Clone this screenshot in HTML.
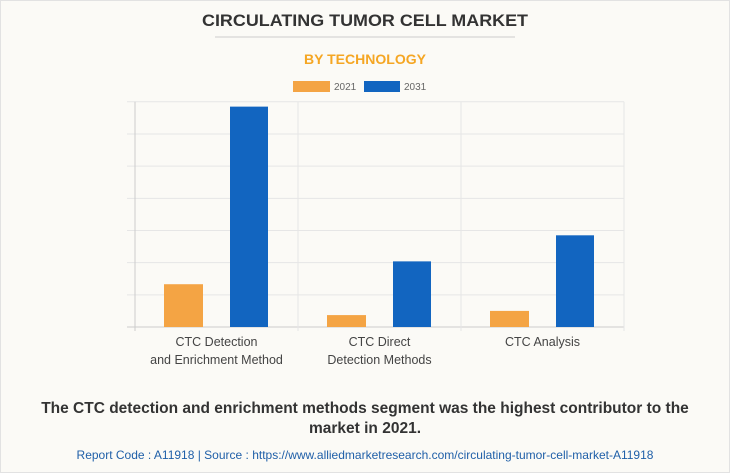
<!DOCTYPE html>
<html><head><meta charset="utf-8"><style>
body{margin:0;background:#fff}
svg{display:block;font-family:"Liberation Sans",sans-serif}
</style></head><body>
<svg width="730" height="473" viewBox="0 0 730 473">
<rect x="0.5" y="0.5" width="729" height="472" fill="#fbfaf6" stroke="#e2e2e2"/>
<text x="365" y="26" text-anchor="middle" font-size="17" font-weight="bold" fill="#333" textLength="326" lengthAdjust="spacingAndGlyphs">CIRCULATING TUMOR CELL MARKET</text>
<line x1="215" y1="37" x2="515" y2="37" stroke="#ccc"/>
<text x="365" y="64" text-anchor="middle" font-size="14" font-weight="bold" fill="#f5a623" textLength="122" lengthAdjust="spacingAndGlyphs">BY TECHNOLOGY</text>
<g>
<g><rect x="293" y="81" width="37" height="11" fill="#f4a444"/><text x="334" y="90" font-size="10" fill="#666">2021</text></g>
<g><rect x="364" y="81" width="36" height="11" fill="#1265c0"/><text x="404" y="90" font-size="10" fill="#666">2031</text></g>
</g>
<g id="plot"></g>
<text x="365" y="413" text-anchor="middle" font-size="15.5" font-weight="bold" fill="#333">The CTC detection and enrichment methods segment was the highest contributor to the</text>
<text x="365" y="433" text-anchor="middle" font-size="15.5" font-weight="bold" fill="#333">market in 2021.</text>
<text x="365" y="459" text-anchor="middle" font-size="12" fill="#1f5fa8">Report Code : A11918  |  Source : https://www.alliedmarketresearch.com/circulating-tumor-cell-market-A11918</text>
</svg>
<script>
const categories=[["CTC Detection","and Enrichment Method"],["CTC Direct","Detection Methods"],["CTC Analysis"]];
const values2021=[1.33,0.37,0.5];
const values2031=[6.85,2.04,2.85];
const yTicks=[0,1,2,3,4,5,6,7];
const NS="http://www.w3.org/2000/svg";
const plot=document.getElementById('plot');
const x0=135,x1=624,yBase=327,yTop=101.8,yMax=7;
const cw=(x1-x0)/categories.length;
const y=v=>yBase-(v/yMax)*(yBase-yTop);
function el(t,a){const e=document.createElementNS(NS,t);for(const k in a)e.setAttribute(k,a[k]);plot.appendChild(e);return e;}
yTicks.forEach(t=>{
 const g=el('line',{x1:127,x2:x1,y1:y(t),y2:y(t),stroke:t===0?'#ccc':'#e6e6e6'});
 
 
});
for(let i=0;i<=categories.length;i++){
 const l=el('line',{x1:x0+i*cw,x2:x0+i*cw,y1:yTop,y2:yBase+4,stroke:i===0?'#ccc':'#e6e6e6'});
 
 
}
categories.forEach((c,i)=>{
 const cx=x0+i*cw;
 const b1=el('rect',{x:cx+29,y:y(values2021[i]),width:39,height:yBase-y(values2021[i]),fill:'#f4a444'});
 
 
 const b2=el('rect',{x:cx+95,y:y(values2031[i]),width:38,height:yBase-y(values2031[i]),fill:'#1265c0'});
 
 
 c.forEach((line,j)=>{
  const t=el('text',{x:cx+cw/2,y:346+j*18,'text-anchor':'middle','font-size':12.5,fill:'#444'});
  t.textContent=line;
  
  
 });
});
</script>
</body></html>
